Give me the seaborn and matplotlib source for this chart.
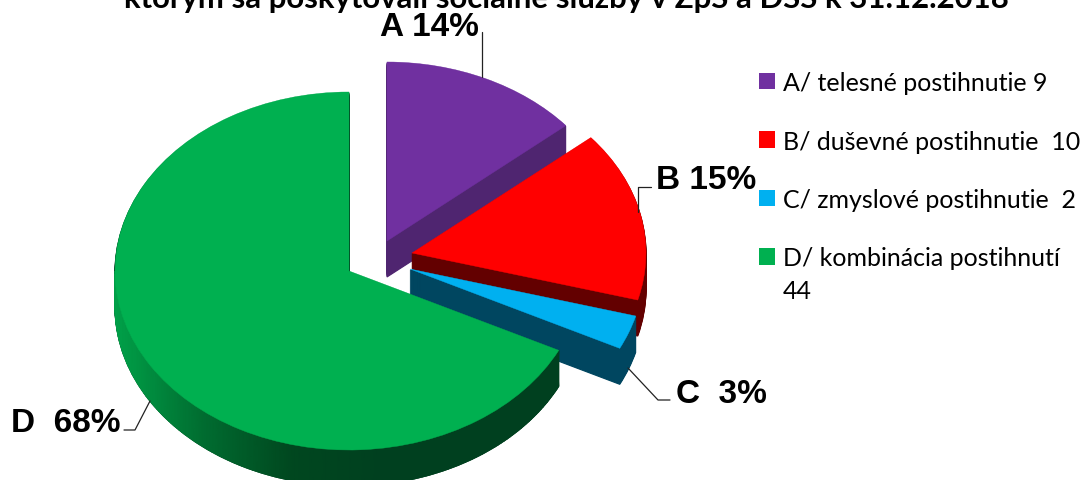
import matplotlib
matplotlib.use("Agg")
import matplotlib.pyplot as plt
from matplotlib.colors import LinearSegmentedColormap
from matplotlib.patches import Patch
import numpy as np
import seaborn as sns

title = "ktorým sa poskytovali sociálne služby v ZpS a DSS k 31.12.2018"
legend_labels = ["A/ telesné postihnutie 9", "B/ duševné postihnutie  10",
                 "C/ zmyslové postihnutie  2", "D/ kombinácia postihnutí"]
legend_wrap = "44"
pct_labels = ["A 14%", "B 15%", "C  3%", "D  68%"]
values = [9, 10, 2, 44]
face_colors = ["#7030A0", "#FF0000", "#00B0F0", "#00B050"]
side_colors = ["#4F2570", "#630000", "#004660", "#00401F"]

W, H = 1082, 481
RX, RY = 234, 179      # top face ellipse, px
DEPTH = 36
# wedge apex in px, each slice is pulled out on its own
apex = [(387, 242), (412, 254), (410, 270), (349, 272)]

sns.set_theme(style="white")
plt.rcParams["font.family"] = ["Liberation Sans", "DejaVu Sans"]

fig = plt.figure(figsize=(W / 100, H / 100), dpi=100)
ax = fig.add_axes([0, 0, 1, 1])


def to_data(px, py):
    return px / RX, (H - py) / RY


def one_slice(frac, start, center, color, lw=0):
    ax.pie([frac], normalize=False, startangle=start, counterclock=False,
           center=center, radius=1, colors=[color],
           wedgeprops={"linewidth": lw, "edgecolor": color})


total = sum(values)
start = 90
starts = []
for v in values:
    starts.append(start)
    start -= v / total * 360

for i, v in enumerate(values):
    frac = v / total
    cx, cy = to_data(*apex[i])
    # side walls as a stack of the same slice
    for d in range(DEPTH, 0, -1):
        one_slice(frac, starts[i], (cx, cy - d / RY), side_colors[i], lw=0.8)
    if i == 3:
        # shaded outer rim of the big slice
        rim = LinearSegmentedColormap.from_list(
            "rim", ["#00A048", "#006C30", "#00471F", "#00401F", "#00401F", "#00401F"])
        a0 = np.radians(starts[i])
        theta = np.linspace(a0, -np.pi, 160)
        xs = cx + np.cos(theta)
        ys = cy + np.sin(theta)
        X = np.vstack([xs, xs])
        Y = np.vstack([ys, ys - DEPTH / RY])
        ax.pcolormesh(X, Y, X.copy(), cmap=rim, shading="gouraud")
    one_slice(frac, starts[i], (cx, cy), face_colors[i], lw=0.3)

ax.set_aspect("auto")
ax.set_xlim(0, W / RX)
ax.set_ylim(0, H / RY)
ax.axis("off")

# leader lines
leaders = [[(482, 33), (482, 78)],
           [(651, 188), (638, 188), (638, 213)],
           [(628, 369), (658, 401), (670, 401)],
           [(150, 402), (135, 431), (124, 431)]]
for pts in leaders:
    dpts = [to_data(*p) for p in pts]
    ax.plot([p[0] for p in dpts], [p[1] for p in dpts], color="#222222", lw=0.9)

label_pos = [(380, 36), (656, 189), (676, 403), (11, 432)]
for lab, (px, py) in zip(pct_labels, label_pos):
    fig.text(px / W, 1 - py / H, lab, fontsize=24, fontweight="bold",
             color="black", ha="left", va="baseline")

fig.text(566 / W, 1 - 8 / H, title, fontsize=22.4, fontweight="bold", color="black",
         family=["Lato", "DejaVu Sans"], ha="center", va="baseline")

handles = [Patch(facecolor=c, edgecolor="none") for c in face_colors]
ax.legend(handles, legend_labels, loc="upper left", bbox_to_anchor=(759 / W, 1 - 72 / H),
          bbox_transform=fig.transFigure, frameon=False, handlelength=0.64, handleheight=0.64,
          handletextpad=0.32, labelspacing=1.42, borderpad=0, borderaxespad=0,
          prop={"family": ["Lato", "DejaVu Sans"], "size": 18}, labelcolor="black")
fig.text(783 / W, 1 - 299 / H, legend_wrap, fontsize=18, color="black",
         family=["Lato", "DejaVu Sans"], ha="left", va="baseline")

fig.savefig("out.png", dpi=100)
plt.close()
